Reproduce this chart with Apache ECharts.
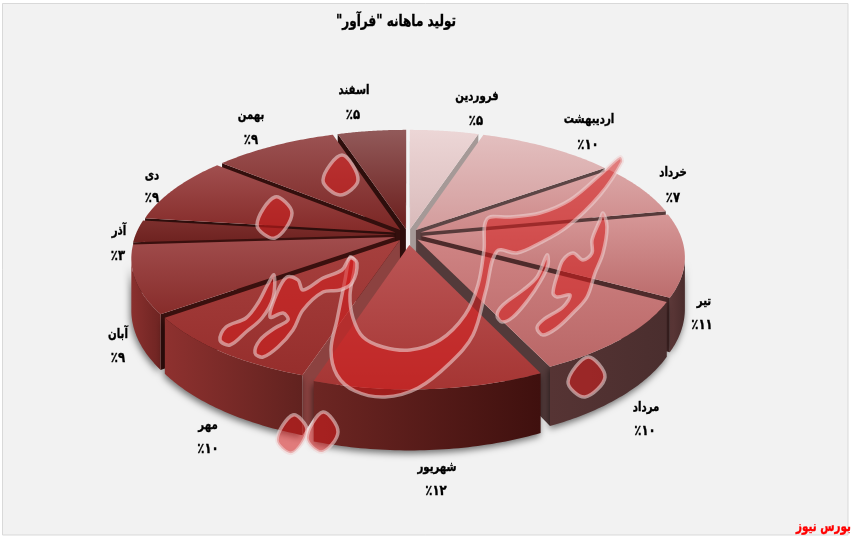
<!DOCTYPE html>
<html><head><meta charset="utf-8">
<script src="https://cdn.jsdelivr.net/npm/echarts@6/dist/echarts.min.js"></script>
<style>html,body{margin:0;padding:0;background:#fff}#c{width:854px;height:539px}</style>
</head><body><div id="c"></div>
<script>
const months = ['فروردین','اردیبهشت','خرداد','تیر','مرداد','شهریور','مهر','آبان','آذر','دی','بهمن','اسفند'];
const shares = [5,10,7,11,10,12,10,9,3,9,9,5];
const chartTitle = 'تولید ماهانه "فرآور"\u200F';
const sourceText = 'بورس نیوز';

// ---- styling / layout (not data) ----
const explode = [.05,.05,.05,.05,.05,.08,.05,.05,.05,.05,.05,.05];
const radius  = [.952,.952,.952,.952,.952,.945,.952,.952,.952,.952,.952,.952];
const topColors = [['#ecd6d6','#d9baba'],['#e3bfbf','#d39c9c'],['#dba6a6','#cd8888'],['#d69797','#bc6d6d'],['#cf8484','#b96666'],['#bb5656','#a53533'],['#a6403e','#962e2c'],['#a14d4d','#872c2a'],['#7c2f2d','#6e2220'],['#a14f4f','#842a28'],['#9b5252','#7b2624'],['#925a5a','#6b1e1c']];
const wallColors = [['#8a7a7a','#8a7a7a'],['#8a7070','#8a7070'],['#7a5555','#6a4545'],['#5c3838','#4a2c2c'],['#563434','#4a2e2e'],['#6d2623','#3f100e'],['#8e312f','#61221f'],['#8a302e','#6e2422'],['#7a2a28','#7a2a28'],['#7a2a28','#7a2a28'],['#7a2a28','#7a2a28'],['#7a2a28','#7a2a28']];
const edgeColors = [['#6a6a6a','#a59997'],['#a59997','#5c4545'],['#5c4545','#583a3a'],['#583a3a','#4e2b2b'],['#4e2b2b','#533a3a'],['#533a3a','#7a3230'],['#8c4240','#3a100e'],['#3a100e','#3a100e'],['#3a100e','#2e0e0c'],['#2e0e0c','#330f0d'],['#330f0d','#2e0e0c'],['#2e0e0c','#4a2020']];
const labelAnchors = [[477,97,476,121],[589,120,588,145],[673,173,673,198],[704,302,702,325],[646,408,645,431],[437,468,436,491],[208,426,208,449],[118,335,118,358],[119,232,118,256],[152,176,152,198],[251,116,251,140],[354,91,353,115]];
const CX=408, CY=235, RX=272, RY=123.5, P=.176, H=50;

const faDigits = n => String(n).replace(/\d/g,d=>'۰۱۲۳۴۵۶۷۸۹'[d]);
const total = shares.reduce((a,b)=>a+b,0);
const proj = (u,v,z)=>{const w=1-P*v; return [CX+RX*u/w, CY+(RY*v+(z||0)*H)/w];};
const dir = a=>[Math.sin(a),-Math.cos(a)];
const label = (x,y,text,size,fill,align,sx)=>({type:'text',x,y,scaleX:sx,scaleY:1.1,z2:50,style:{x:0,y:0,text,font:'bold '+size+'px "DejaVu Sans"',fill,stroke:fill,lineWidth:.35,align:align||'center',verticalAlign:'middle'}});

let acc=0;
const slices = shares.map((s,i)=>{
  const a0=acc/total*2*Math.PI; acc+=s; const a1=acc/total*2*Math.PI;
  const mid=(a0+a1)/2, d=dir(mid), e=explode[i];
  return {i,a0,a1,mid,ox:d[0]*e,oy:d[1]*e,r:radius[i],depth:d[1]};
});
const drawOrder = slices.slice().sort((a,b)=>a.depth-b.depth).map(s=>s.i);

function renderItem(params, api){
  const s=slices[api.value(0)], i=s.i, n=48, pts=[];
  for(let k=0;k<=n;k++){const a=s.a0+(s.a1-s.a0)*k/n, d=dir(a); pts.push([s.ox+d[0]*s.r, s.oy+d[1]*s.r]);}
  const ch=[];
  const apex=[s.ox,s.oy];
  const quad=(p)=>[proj(apex[0],apex[1],0),proj(p[0],p[1],0),proj(p[0],p[1],1),proj(apex[0],apex[1],1)];
  const area=q=>{let t=0;for(let k=0;k<q.length;k++){const a=q[k],b=q[(k+1)%q.length];t+=a[0]*b[1]-b[0]*a[1];}return t;};
  const qs=quad(pts[0]), qe=quad(pts[n]);
  if(area(qs)<0) ch.push({type:'polygon',shape:{points:qs},style:{fill:edgeColors[i][0]}});
  if(area(qe)>0) ch.push({type:'polygon',shape:{points:qe},style:{fill:edgeColors[i][1]}});
  const vis=pts.filter((p,k)=>{
    const a=proj(p[0],p[1],0), nb=pts[k+1]||pts[k-1], b=proj(nb[0],nb[1],0);
    return k<n ? b[0]<a[0] : b[0]>a[0];
  });
  if(vis.length>1){
    const t=vis.map(p=>proj(p[0],p[1],0)), b=vis.map(p=>proj(p[0],p[1],1)).reverse();
    ch.push({type:'polygon',shape:{points:t.concat(b)},style:{
      fill:{type:'linear',x:1,y:0,x2:0,y2:0,colorStops:[{offset:0,color:wallColors[i][1]},{offset:1,color:wallColors[i][0]}]},
      shadowBlur:7,shadowColor:'rgba(0,0,0,.55)',shadowOffsetY:3,shadowOffsetX:-1}});
  }
  const top=[proj(apex[0],apex[1],0)].concat(pts.map(p=>proj(p[0],p[1],0)));
  ch.push({type:'polygon',shape:{points:top},style:{
    fill:{type:'linear',x:0,y:0,x2:0,y2:1,colorStops:[{offset:0,color:topColors[i][0]},{offset:1,color:topColors[i][1]}]}}});
  const la=labelAnchors[i];
  ch.push(label(la[0],la[1],months[i],12,'#000','center',.85));
  ch.push(label(la[2],la[3],'٪'+faDigits(shares[i]),13,'#000','center',.9));
  return {type:'group',children:ch};
}

// watermark outline, drawn as shapes over the pie
const markFill='rgba(212,30,30,.56)', markEdge='rgba(240,212,212,.58)';
const markShapes=[
 [[620,157],[600,175],[570,200],[540,213],[510,217],[487,219],[484,250],[478,285],[465,315],[440,340],[410,350],[383,347],[363,337],[353,318],[350,295],[355,262],[350,257],[345,280],[337,320],[331,350],[337,375],[355,391],[385,397],[418,388],[450,363],[473,335],[486,290],[497,251],[517,253],[540,243],[567,227],[600,195],[622,162]],
 [[220,340],[226,327],[246,318],[258,303],[268,284],[274,275],[273,298],[262,318],[246,332],[230,345]],
 [[255,353],[260,340],[275,328],[288,320],[283,313],[270,317],[277,293],[287,277],[298,280],[303,290],[323,278],[342,270],[350,258],[357,263],[352,283],[340,290],[323,292],[303,310],[293,330],[278,347],[263,357]],
 [[547,255],[548,265],[540,282],[528,300],[513,317],[502,322],[497,315],[503,305],[523,290],[537,277]],
 [[603,213],[607,227],[603,253],[595,273],[587,297],[573,313],[557,328],[543,335],[537,328],[543,320],[563,307],[570,295],[557,297],[553,293],[558,273],[563,260],[573,253],[583,260],[592,253],[592,240],[600,220]],
 [[342,155],[358,180],[340,195],[323,180]],
 [[275,197],[292,213],[275,238],[257,225]],
 [[588,357],[605,377],[585,397],[568,382]],
 [[293,415],[307,430],[292,453],[277,440]],
 [[323,412],[338,432],[322,452],[307,438]]
];

const chart=echarts.init(document.getElementById('c'),null,{renderer:'canvas'});
chart.setOption({
  animation:false,
  backgroundColor:'#ffffff',
  graphic:[
    {type:'rect',z:0,shape:{x:2.5,y:3.5,width:845.5,height:531.5},style:{fill:'#f2f2f2',stroke:'#d9d9d9',lineWidth:1}},
    Object.assign(label(396,22,chartTitle,14,'#000','center',.86),{z:20}),
    Object.assign(label(851,527,sourceText,13,'#ff0000','right',.8),{z:20}),
    ...markShapes.map(p=>({type:'polygon',z:10,shape:{points:p,smooth:.35},style:{fill:markFill,stroke:markEdge,lineWidth:3.5,lineJoin:'round'}}))
  ],
  series:[{type:'custom',coordinateSystem:'none',silent:true,renderItem,data:drawOrder.map(i=>[i]),z:2}]
});
</script></body></html>
